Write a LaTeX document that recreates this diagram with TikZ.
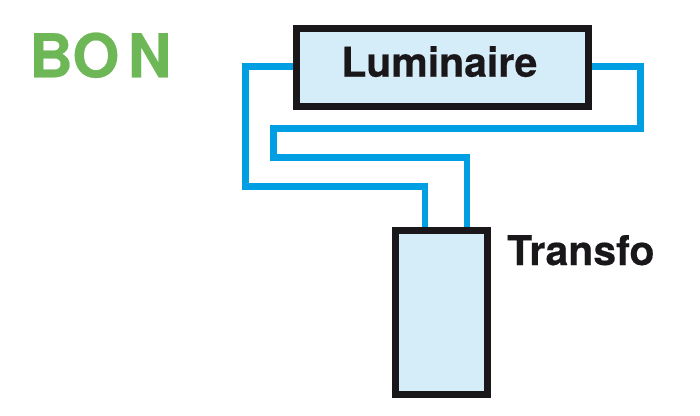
\documentclass[tikz,border=0pt]{standalone}
\usepackage{fontspec}
\setmainfont{TeX Gyre Heros}[BoldFeatures={FakeBold=0.35}]
\definecolor{wireblue}{HTML}{009FE3}
\definecolor{boxfill}{HTML}{D5ECF9}
\definecolor{inkblack}{HTML}{1A171B}
\definecolor{goodgreen}{HTML}{6DB757}
\tikzset{
  unitbox/.style={draw=inkblack,fill=boxfill,line width=7pt,inner sep=0pt},
  wire/.style={draw=wireblue,line width=6.6pt,miter limit=10},
  blacklabel/.style={text=inkblack,inner sep=0pt,anchor=base west,font=\bfseries\fontsize{41pt}{41pt}\selectfont},
  verdict/.style={text=goodgreen,inner sep=0pt,anchor=base west,font=\bfseries\fontsize{60.5pt}{60.5pt}\selectfont}
}
\begin{document}
\begin{tikzpicture}[x=1pt,y=-1pt]
\useasboundingbox (0,0) rectangle (700,415);
\node[unitbox,minimum width=291.5pt,minimum height=77.5pt] (lum) at (442.7,67.3) {};
\node[unitbox,minimum width=92.5pt,minimum height=164pt] (tr) at (441.5,312.8) {};
\node[blacklabel] (lumtext) at (341.2,76.7) {Luminaire};
\node[blacklabel] (trtext) at (507,265) {Transfo};
\node[verdict] (bon) at (29,77.3) {\spaceskip=8.5pt BO N};
\coordinate (a1) at (245.7,66.7);
\coordinate (a2) at (245.7,186.7);
\coordinate (a3) at (425,186.7);
\coordinate (b1) at (640.7,66.7);
\coordinate (b2) at (640.7,128.7);
\coordinate (b3) at (273.3,128.7);
\coordinate (b4) at (273.3,157.7);
\coordinate (b5) at (467,157.7);
\draw[wire] (lum.west |- a1) -- (a1) -- (a2) -- (a3) -- (a3 |- tr.north);
\draw[wire] (lum.east |- b1) -- (b1) -- (b2) -- (b3) -- (b4) -- (b5) -- (b5 |- tr.north);
\end{tikzpicture}
\end{document}
